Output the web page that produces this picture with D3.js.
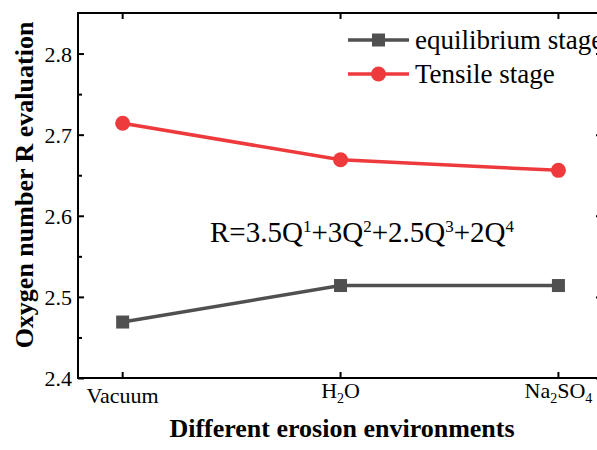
<!DOCTYPE html>
<html>
<head>
  <meta charset="utf-8">
  <title></title>
  <style>
    body { margin: 0; background: #fff; }
    text { font-family: "Liberation Serif", "Times New Roman", serif; fill: #000; }
    .axis path, .axis line { stroke: #000; stroke-width: 2px; }
  </style>
</head>
<body>
<svg width="597" height="450"></svg>
<script src="https://d3js.org/d3.v7.min.js"></script>
<script>

var environments = ["Vacuum", "H2O", "Na2SO4"];
var equilibrium = [2.469, 2.514, 2.514];
var tensile = [2.714, 2.669, 2.656];
var yTicks = [2.4, 2.5, 2.6, 2.7, 2.8];
var yMinor = [2.45, 2.55, 2.65, 2.75];

var svg = d3.select("svg");

var mLeft = 78, mRight = 602, mTop = 13, mBottom = 378;

var x = d3.scaleLinear().domain([-0.205, 2.2]).range([mLeft, mRight]);
var y = d3.scaleLinear().domain([2.4, 2.85]).range([mBottom, mTop]);

var gray = "#505050", red = "#ee3a3c";
var serif = "Liberation Serif, Times New Roman, serif";

// frame
svg.append("rect")
  .attr("x", mLeft).attr("y", mTop)
  .attr("width", mRight - mLeft).attr("height", mBottom - mTop)
  .attr("fill", "none").attr("stroke", "#000").attr("stroke-width", 2);

// y ticks pointing in, both sides
[[mLeft, d3.axisRight], [mRight, d3.axisLeft]].forEach(function(s) {
  svg.append("g").attr("class", "axis")
    .attr("transform", "translate(" + s[0] + ",0)")
    .call(s[1](y).tickValues(yTicks).tickSize(6).tickFormat(""))
    .select(".domain").remove();
  svg.append("g").attr("class", "axis")
    .attr("transform", "translate(" + s[0] + ",0)")
    .call(s[1](y).tickValues(yMinor).tickSize(4).tickFormat(""))
    .select(".domain").remove();
});

svg.selectAll(".ylab").data(yTicks).enter().append("text")
  .attr("x", mLeft - 6).attr("y", function(d) { return y(d) + 8; })
  .attr("text-anchor", "end").attr("font-size", 22).attr("font-family", serif)
  .text(function(d) { return d.toFixed(1); });

// x ticks, bottom and top
[[mBottom, -6], [mTop, 6]].forEach(function(p) {
  svg.append("g").selectAll("line").data(environments).enter().append("line")
    .attr("x1", function(d, i) { return x(i); }).attr("x2", function(d, i) { return x(i); })
    .attr("y1", p[0]).attr("y2", p[0] + p[1])
    .attr("stroke", "#000").attr("stroke-width", 2);
});

// x tick labels with subscripts
var xl = svg.selectAll(".xlab").data(environments).enter().append("text")
  .attr("x", function(d, i) { return x(i); }).attr("y", 403)
  .attr("text-anchor", "middle").attr("font-size", 22).attr("font-family", serif);
xl.each(function(d) {
  var t = d3.select(this);
  var parts = d.match(/[A-Za-z]+|\d+/g);
  if (parts.length == 1) { t.text(d); return; }
  parts.forEach(function(p) {
    if (/\d/.test(p)) {
      t.append("tspan").attr("font-size", 14).attr("dy", 5).text(p);
    } else {
      t.append("tspan").attr("dy", t.node().childNodes.length ? -5 : 0).text(p);
    }
  });
});

// lines
var line = d3.line().x(function(d, i) { return x(i); }).y(function(d) { return y(d); });

svg.append("path").datum(equilibrium).attr("d", line)
  .attr("fill", "none").attr("stroke", gray).attr("stroke-width", 3.5);
svg.selectAll(".sq").data(equilibrium).enter().append("rect")
  .attr("x", function(d, i) { return x(i) - 6.5; }).attr("y", function(d) { return y(d) - 6.5; })
  .attr("width", 13).attr("height", 13).attr("fill", gray);

svg.append("path").datum(tensile).attr("d", line)
  .attr("fill", "none").attr("stroke", red).attr("stroke-width", 3.5);
svg.selectAll(".dot").data(tensile).enter().append("circle")
  .attr("cx", function(d, i) { return x(i); }).attr("cy", function(d) { return y(d); })
  .attr("r", 7.5).attr("fill", red);

// legend
var legend = [["equilibrium stage", gray, "rect"], ["Tensile stage", red, "circle"]];
legend.forEach(function(l, i) {
  var ly = 40 + i * 34;
  svg.append("line").attr("x1", 348).attr("x2", 409).attr("y1", ly).attr("y2", ly)
    .attr("stroke", l[1]).attr("stroke-width", 3.5);
  if (l[2] == "rect") {
    svg.append("rect").attr("x", 372).attr("y", ly - 6.5).attr("width", 13).attr("height", 13).attr("fill", l[1]);
  } else {
    svg.append("circle").attr("cx", 378.5).attr("cy", ly).attr("r", 7.5).attr("fill", l[1]);
  }
  svg.append("text").attr("x", 415).attr("y", ly + 9).attr("font-size", 27)
    .attr("font-family", serif).text(l[0]);
});

// equation
var eq = svg.append("text").attr("x", 210).attr("y", 232)
  .attr("font-size", 29).attr("font-family", serif);
[["R=3.5Q", "1"], ["+3Q", "2"], ["+2.5Q", "3"], ["+2Q", "4"]].forEach(function(p) {
  eq.append("tspan").attr("dy", eq.node().childNodes.length ? 10 : 0).attr("font-size", 29).text(p[0]);
  eq.append("tspan").attr("dy", -10).attr("font-size", 17).text(p[1]);
});

// axis titles
svg.append("text").attr("x", 342).attr("y", 437)
  .attr("text-anchor", "middle").attr("font-size", 26).attr("font-weight", "bold")
  .attr("font-family", serif)
  .text("Different erosion environments");
svg.append("text").attr("transform", "translate(33,185) rotate(-90)")
  .attr("text-anchor", "middle").attr("font-size", 26).attr("font-weight", "bold")
  .attr("font-family", serif)
  .text("Oxygen number R evaluation");

</script>
</body>
</html>
